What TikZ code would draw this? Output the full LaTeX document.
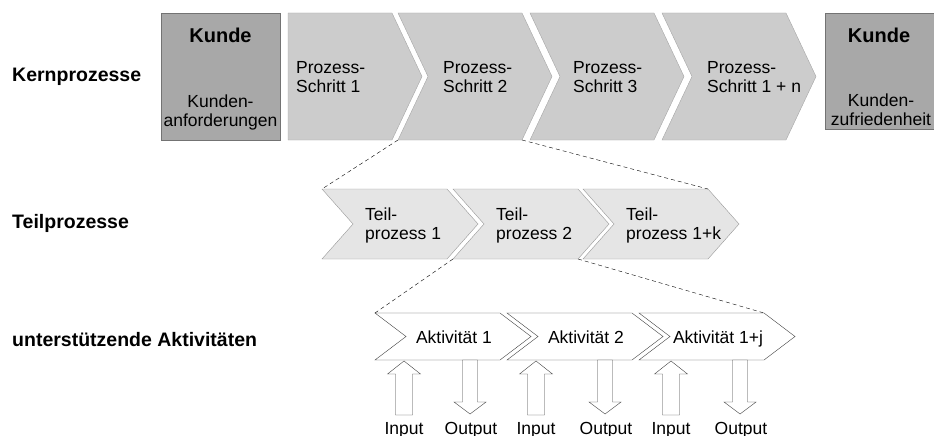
\documentclass[tikz,border=0pt]{standalone}
\usepackage{fontspec}
\setmainfont{Liberation Sans}
\usetikzlibrary{positioning}
\tikzstyle{kunde}=[draw=black!55,fill=black!34]
\tikzstyle{kern}=[draw=black!35,fill=black!20]
\tikzstyle{teil}=[draw=black!40,fill=black!10]
\tikzstyle{akt}=[draw=black!75,fill=white]
\tikzstyle{steptext}=[font=\fontsize{17.5}{19}\selectfont,align=left,inner sep=0pt]
\tikzstyle{kundetext}=[font=\fontsize{20}{22}\selectfont\bfseries,inner sep=0pt]
\tikzstyle{row title}=[font=\fontsize{19.5}{22}\selectfont\bfseries,anchor=west,inner sep=0pt]
\tikzstyle{link}=[draw,thin,dash pattern=on 4pt off 3pt]
\tikzstyle{block arrow}=[draw=black!75,fill=white]

\begin{document}
\begin{tikzpicture}[x=1pt,y=-1pt]
    \useasboundingbox (0,0) rectangle (934,436);
    % Row titles
    \node[row title] (kern) at (12,77) {Kernprozesse};
    \node[row title] (teil) at (12,223) {Teilprozesse};
    \node[row title] (akt) at (12,340) {unterstützende Aktivitäten};

    % Customer boxes on both ends
    \path[kunde] (161,13) rectangle (280,140);
    \path[kunde] (825,13) rectangle (934,129);
    \node[kundetext] (kundeL) at (220.5,35) {Kunde};
    \node[kundetext] (kundeR) at (879,35) {Kunde};
    \node[steptext,align=center] (anf) at (220.5,112) {Kunden-\\anforderungen};
    \node[steptext,align=center] (zuf) at (881,110) {Kunden-\\zufriedenheit};

    % Core process steps, the first one has a flat left edge
    \path[kern] (288,13) -- (392,13) -- (422,76.5) -- (392,140) -- (288,140) -- cycle;
    \foreach \x/\name in {398/k2,530/k3,662/k4}{
        \path[kern] (\x,13) -- ++(124,0) -- ++(30,63.5) -- ++(-30,63.5)
            -- ++(-124,0) -- ++(30,-63.5) -- cycle;
        \coordinate (\name-bl) at (\x,140);
        \coordinate (\name-br) at ({\x+124},140);
    }
    \foreach \x/\name/\txt in {296/k1/{Prozess-\\Schritt 1},443/k2/{Prozess-\\Schritt 2},
                              573/k3/{Prozess-\\Schritt 3},707/k4/{Prozess-\\Schritt 1 + n}}
        \node[steptext,anchor=west] (\name-txt) at (\x,77) {\txt};

    % Sub processes
    \foreach \x/\name/\txt in {322/t1/{Teil-\\prozess 1},453/t2/{Teil-\\prozess 2},583/t3/{Teil-\\prozess 1+k}}{
        \path[teil] (\x,189) -- ++(125,0) -- ++(31,35) -- ++(-31,35)
            -- ++(-125,0) -- ++(31,-35) -- cycle;
        \coordinate (\name-tl) at (\x,189);
        \coordinate (\name-tr) at ({\x+125},189);
        \coordinate (\name-bl) at (\x,259);
        \coordinate (\name-br) at ({\x+125},259);
        \node[steptext,anchor=west] (\name-txt) at ({\x+43},225) {\txt};
    }

    % Supporting activities
    \foreach \x/\name/\txt in {375/a1/{Aktivität 1},507/a2/{Aktivität 2},639/a3/{Aktivität 1+j}}{
        \path[akt] (\x,313) -- ++(125,0) -- ++(31,23.5) -- ++(-31,23.5)
            -- ++(-125,0) -- ++(31,-23.5) -- cycle;
        \coordinate (\name-tl) at (\x,313);
        \coordinate (\name-tr) at ({\x+125},313);
        \node[steptext,anchor=base] (\name-txt) at ({\x+79},343.5) {\txt};
    }

    % Zoom lines between the rows
    \path[link] (k2-bl) -- (t1-tl);
    \path[link] (k2-br) -- (t3-tr);
    \path[link] (t2-bl) -- (a1-tl);
    \path[link] (t2-br) -- (a3-tr);

    % Input and output arrows
    \foreach \x/\name in {404/in1,536/in2,671/in3}{
        \path[block arrow] ({\x-8.5},415) -- ({\x-8.5},374) -- ({\x-16.5},374) -- (\x,361)
            -- ({\x+16.5},374) -- ({\x+8.5},374) -- ({\x+8.5},415) -- cycle;
        \node[steptext,anchor=base] (\name) at (\x,434) {Input};
    }
    \foreach \x/\name in {470/out1,605/out2,740/out3}{
        \path[block arrow] ({\x-7.5},360) -- ({\x-7.5},402) -- ({\x-16},402) -- (\x,414)
            -- ({\x+16},402) -- ({\x+7.5},402) -- ({\x+7.5},360) -- cycle;
        \node[steptext,anchor=base] (\name) at ({\x+1},434) {Output};
    }
\end{tikzpicture}
\end{document}
